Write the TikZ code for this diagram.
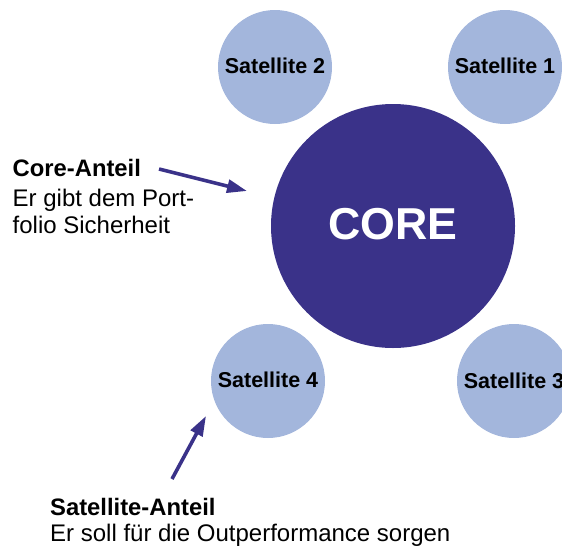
\documentclass[tikz,border=0pt]{standalone}
\usepackage{fontspec}
\setmainfont{Liberation Sans}
\usetikzlibrary{arrows.meta}
\definecolor{coreblue}{RGB}{58,50,137}
\definecolor{satblue}{RGB}{163,182,220}
\tikzset{
  sat/.style={circle, fill=satblue, minimum size=114pt, inner sep=0pt,
    font=\fontsize{21.5}{26}\selectfont\bfseries, text=black},
  corecirc/.style={circle, fill=coreblue, minimum size=244pt, inner sep=0pt,
    font=\fontsize{44.7}{50}\selectfont\bfseries, text=white},
  headtxt/.style={anchor=base west, inner sep=0pt, font=\fontsize{23.8}{28}\selectfont\bfseries},
  bodytxt/.style={anchor=base west, inner sep=0pt, font=\fontsize{24}{28}\selectfont},
  arr/.style={draw=coreblue, line width=3.6pt, -{Triangle[length=20pt,width=13pt]}}
}
\begin{document}
\begin{tikzpicture}[x=1pt,y=-1pt]
\useasboundingbox (0,0) rectangle (562,549);
\clip (0,0) rectangle (562,549);
\node[corecirc] (core) at (393,226) {\raisebox{4pt}{CORE}};
\node[sat] (s1) at (505,67) {\raisebox{2.5pt}{Satellite 1}};
\node[sat] (s2) at (275,67) {\raisebox{2.5pt}{Satellite 2}};
\node[sat] (s3) at (514,381) {Satellite 3};
\node[sat] (s4) at (268,381) {\raisebox{2.5pt}{Satellite 4}};
\node[headtxt] (cah) at (12.5,176.5) {Core-Anteil};
\node[bodytxt] (ca1) at (12.5,206) {Er gibt dem Port-};
\node[bodytxt] (ca2) at (12.5,233.5) {folio Sicherheit};
\node[headtxt] (sah) at (50,515) {Satellite-Anteil};
\node[bodytxt] (sa1) at (50,541) {Er soll für die Outperformance sorgen};
\coordinate (a1s) at (159,169);
\coordinate (a1e) at (247,191);
\coordinate (a2s) at (172,479);
\coordinate (a2e) at (206,416);
\draw[arr] (a1s) -- (a1e);
\draw[arr] (a2s) -- (a2e);
\end{tikzpicture}
\end{document}
